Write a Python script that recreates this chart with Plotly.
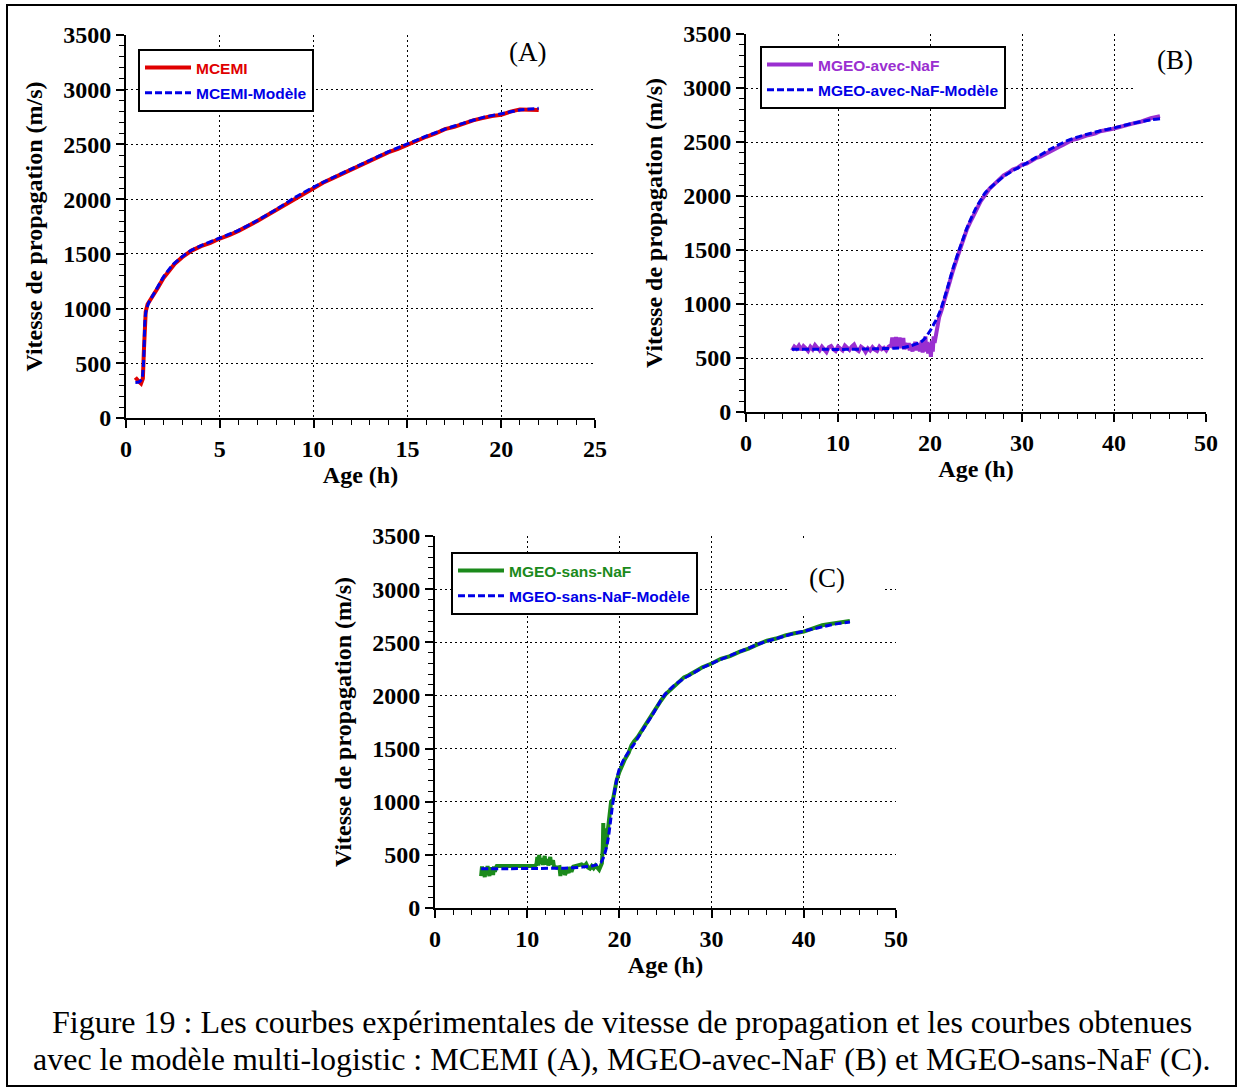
import plotly.graph_objects as go

# ---------------- DATA ----------------
# Panel A : MCEMI
a_x = [0.5, 0.6, 0.7, 0.8, 0.85, 0.9, 0.95, 1.0, 1.05, 1.15, 1.3, 1.5, 1.7, 2.0, 2.3, 2.6, 3.0, 3.5,
       4.0, 4.5, 5.0, 5.5, 6.0, 6.5, 7.0, 7.5, 8.0, 8.5, 9.0, 9.5, 10.0, 10.5, 11.0, 11.5, 12.0, 12.5,
       13.0, 13.5, 14.0, 14.5, 15.0, 15.5, 16.0, 16.5, 17.0, 17.5, 18.0, 18.5, 19.0, 19.5, 20.0, 20.5,
       21.0, 21.5, 22.0]
a_data = [370, 345, 330, 315, 340, 360, 600, 900, 970, 1040, 1080, 1130, 1190, 1280, 1350, 1410, 1470, 1530,
          1570, 1600, 1640, 1670, 1710, 1750, 1800, 1850, 1900, 1960, 2010, 2060, 2110, 2150, 2190, 2230, 2270, 2310,
          2350, 2390, 2430, 2460, 2500, 2540, 2570, 2600, 2640, 2660, 2690, 2720, 2740, 2760, 2770, 2800,
          2820, 2820, 2815]
a_model_x = [0.5, 0.7, 0.85, 0.95, 1.0, 1.05, 1.2, 1.5, 2.0, 2.5, 3.0, 3.5, 4.0, 5.0, 6.0, 7.0, 8.0, 9.0,
             10.0, 11.0, 12.0, 13.0, 14.0, 15.0, 16.0, 17.0, 18.0, 19.0, 20.0, 21.0, 22.0]
a_model = [325, 330, 360, 560, 860, 960, 1050, 1140, 1290, 1400, 1475, 1535, 1575, 1645, 1715, 1805, 1905, 2015,
           2110, 2195, 2275, 2355, 2435, 2505, 2575, 2640, 2695, 2745, 2780, 2815, 2830]

# Panel B : MGEO-avec-NaF
b_x = [5.0, 5.25, 5.5, 5.75, 6.0, 6.25, 6.5, 6.75, 7.0, 7.25, 7.5, 7.75, 8.0, 8.25, 8.5, 8.75, 9.0, 9.25,
       9.5, 9.75, 10.0, 10.25, 10.5, 10.75, 11.0, 11.25, 11.5, 11.75, 12.0, 12.25, 12.5, 12.75, 13.0, 13.25,
       13.5, 13.75, 14.0, 14.25, 14.5, 14.75, 15.0, 15.25, 15.5, 15.8, 15.9, 16.0, 16.1, 16.2, 16.3, 16.4,
       16.5, 16.6, 16.7, 16.8, 16.9, 17.0, 17.1, 17.2, 17.3, 17.4, 17.5, 17.6, 17.7, 17.8, 17.9, 18.0,
       18.1, 18.2, 18.3, 18.4, 18.5, 18.6, 18.7, 18.8, 18.9, 19.0, 19.1, 19.2, 19.3, 19.4, 19.5, 19.6,
       19.7, 19.8, 19.9, 20.0, 20.1, 20.2, 20.3, 20.4, 20.5, 20.75, 21.0, 21.25, 21.5, 21.75, 22.0, 22.5,
       23.0, 23.5, 24.0, 24.5, 25.0, 25.5, 26.0, 26.5, 27.0, 27.5, 28.0, 28.5, 29.0, 29.5, 30.0, 30.5,
       31.0, 31.5, 32.0, 32.5, 33.0, 33.5, 34.0, 34.5, 35.0, 35.5, 36.0, 36.5, 37.0, 37.5, 38.0, 38.5,
       39.0, 39.5, 40.0, 41.0, 42.0, 43.0, 44.0, 45.0]
b_data = [570, 605, 585, 615, 575, 610, 590, 565, 605, 580, 620, 590, 570, 605, 580, 555, 600, 610,
          580, 565, 605, 590, 570, 615, 595, 575, 605, 625, 580, 565, 605, 590, 555, 590,
          570, 600, 578, 565, 605, 582, 595, 570, 605, 620, 690, 590, 680, 600, 695, 585, 670, 610,
          690, 590, 660, 600, 685, 580, 640, 600, 620, 585, 640, 570, 615, 600, 560, 630, 580, 650,
          570, 620, 590, 640, 560, 610, 660, 550, 620, 580, 700, 560, 650, 540, 640, 600, 510, 660,
          560, 700, 640, 760, 880, 940, 1020, 1100, 1170, 1310,
          1440, 1580, 1690, 1780, 1870, 1950, 2010, 2070, 2110, 2150, 2190, 2215, 2245, 2260, 2290, 2300,
          2330, 2350, 2365, 2390, 2410, 2435, 2455, 2475, 2500, 2520, 2530, 2550, 2560, 2570, 2580, 2600,
          2605, 2615, 2625, 2650, 2670, 2690, 2720, 2740]
b_model_x = [5, 8, 11, 14, 16, 17, 18, 19, 19.5, 20, 20.5, 21, 21.5, 22, 22.5, 23, 23.5, 24, 24.5, 25,
             25.5, 26, 27, 28, 29, 30, 31, 32, 33, 34, 35, 36, 37, 38, 39, 40, 41, 42, 43, 44, 45]
b_model = [580, 580, 580, 585, 590, 595, 615, 648, 688, 750, 826, 913, 1037, 1180, 1330, 1460, 1580, 1700,
           1800, 1890, 1960, 2030, 2110, 2180, 2235, 2280, 2330, 2380, 2430, 2475, 2515, 2545, 2570, 2592,
           2612, 2630, 2652, 2672, 2690, 2705, 2715]

# Panel C : MGEO-sans-NaF
c_x = [5.0, 5.1, 5.2, 5.3, 5.4, 5.5, 5.6, 5.7, 5.8, 5.9, 6.0, 6.1, 6.2, 6.3, 6.4, 6.5, 6.6, 6.7,
       7.0, 7.5, 8.0, 9.0, 10.0, 10.8, 11.0, 11.1, 11.2, 11.3, 11.4, 11.6, 11.7, 11.9, 12.0, 12.2, 12.3,
       12.5, 12.6, 12.8, 12.9, 13.2, 13.5, 13.6, 13.7, 13.8, 14.0, 14.1, 14.3, 14.5, 14.6, 14.8, 15.0,
       15.3, 15.6, 15.9, 16.2, 16.4, 16.6, 16.8, 17.0, 17.2, 17.4, 17.6, 17.8, 18.0, 18.1, 18.2, 18.25,
       18.3, 18.4, 18.5, 18.6, 18.7, 18.8, 19.0, 19.1, 19.3, 19.5, 19.7, 20.0, 20.3, 20.6, 21.0, 21.3,
       21.6, 22.0, 22.5, 23.0, 23.5, 24.0, 24.5, 25.0, 25.5, 26.0, 26.5, 27.0, 27.5, 28.0, 28.5, 29.0,
       29.5, 30.0, 31.0, 32.0, 33.0, 34.0, 35.0, 36.0, 37.0, 38.0, 39.0, 40.0, 41.0, 42.0, 43.0, 44.0, 45.0]
c_data = [300, 390, 330, 370, 290, 380, 320, 395, 340, 300, 385, 330, 370, 310, 390, 340, 380, 395,
          395, 395, 395, 395, 395, 395, 410, 480, 400, 500, 420, 470, 405, 490, 410, 460, 400,
          480, 410, 450, 390, 380, 385, 300, 370, 320, 380, 310, 360, 330, 385, 340, 390,
          395, 400, 410, 395, 415, 380, 370, 395, 375, 400, 385, 360, 400, 420, 560, 800,
          600, 750, 560, 620, 700, 820, 900, 1000, 1020, 1130, 1200, 1280, 1350, 1400, 1460, 1530,
          1570, 1610, 1680, 1750, 1810, 1880, 1950, 2010, 2050, 2090, 2140, 2170, 2190, 2220, 2240, 2265,
          2280, 2300, 2345, 2370, 2410, 2440, 2480, 2515, 2535, 2565, 2585, 2600, 2630, 2660, 2675, 2690, 2700]
c_model_x = [5, 8, 11, 14, 16, 17, 17.5, 18.0, 18.3, 18.6, 18.8, 19.0, 19.2, 19.4, 19.6, 19.8, 20.0, 20.5,
             21.0, 21.5, 22.0, 22.5, 23.0, 23.5, 24.0, 24.5, 25.0, 25.5, 26.0, 26.5, 27.0, 28.0, 29.0, 30.0,
             31, 32, 33, 34, 35, 36, 37, 38, 39, 40, 41, 42, 43, 44, 45]
c_model = [370, 370, 372, 375, 385, 395, 405, 430, 480, 570, 660, 790, 930, 1050, 1160, 1245, 1310, 1400,
           1470, 1530, 1600, 1670, 1740, 1805, 1880, 1955, 2015, 2060, 2100, 2130, 2160, 2210, 2260, 2300,
           2340, 2375, 2410, 2445, 2480, 2510, 2535, 2560, 2585, 2605, 2625, 2645, 2665, 2680, 2690]

y_ticks = [0, 500, 1000, 1500, 2000, 2500, 3000, 3500]
a_xticks = [0, 5, 10, 15, 20, 25]
bc_xticks = [0, 10, 20, 30, 40, 50]

# ---------------- STYLE ----------------
W, H = 1240, 1088
SERIF = "Liberation Serif, Times New Roman, serif"
SANS = "Liberation Sans, Arial, sans-serif"
RED = "#e00000"
BLUE = "#0000e6"
PURPLE = "#9a2fd0"
GREEN = "#1b8a1b"


def px_x(p):
    return p / W


def px_y(p):
    return 1 - p / H


fig = go.Figure()

panels = [
    ("x", "y", "legend", a_x, a_data, a_model_x, a_model, RED, "MCEMI", "MCEMI-Modèle"),
    ("x2", "y2", "legend2", b_x, b_data, b_model_x, b_model, PURPLE, "MGEO-avec-NaF", "MGEO-avec-NaF-Modèle"),
    ("x3", "y3", "legend3", c_x, c_data, c_model_x, c_model, GREEN, "MGEO-sans-NaF", "MGEO-sans-NaF-Modèle"),
]

for i, (xa, ya, lg, dx, dy, mx, my, col, nm, mnm) in enumerate(panels):
    fig.add_trace(go.Scatter(
        x=dx, y=dy, mode="lines", xaxis=xa, yaxis=ya, legend=lg,
        line=dict(color=col, width=4),
        name=f"<span style='color:{col}'>{nm}</span>", legendgroup=f"d{i}"))
    fig.add_trace(go.Scatter(
        x=mx, y=my, mode="lines", xaxis=xa, yaxis=ya, legend=lg,
        line=dict(color=BLUE, width=3, dash="7px,3px", shape="spline", smoothing=0.6),
        name=f"<span style='color:{BLUE}'>{mnm}</span>", legendgroup=f"m{i}"))

tickfont = dict(family=SERIF, size=24, color="black", weight="bold")
titlefont = dict(family=SERIF, size=24, color="black", weight="bold")


def xaxis(domain, rng, ticks, minor, anchor):
    return dict(domain=domain, range=rng, tickvals=ticks, anchor=anchor, automargin=False,
                showline=True, linecolor="black", linewidth=2,
                ticks="outside", ticklen=8, tickwidth=1.5, tickcolor="black",
                minor=dict(ticks="outside", ticklen=5, tickwidth=1, tickcolor="black",
                           dtick=minor, showgrid=False),
                showgrid=True, gridcolor="black", gridwidth=1, griddash="2px,3px",
                zeroline=False, tickfont=tickfont,
                title=dict(text="Age (h)", font=titlefont, standoff=4))


def yaxis(domain, anchor):
    return dict(domain=domain, range=[0, 3500], tickvals=y_ticks, anchor=anchor, automargin=False,
                showline=True, linecolor="black", linewidth=2,
                ticks="outside", ticklen=8, tickwidth=1.5, tickcolor="black",
                minor=dict(ticks="outside", ticklen=5, tickwidth=1, tickcolor="black",
                           dtick=100, showgrid=False),
                showgrid=True, gridcolor="black", gridwidth=1, griddash="2px,3px",
                zeroline=False, tickfont=tickfont,
                title=dict(text="Vitesse de propagation (m/s)", font=titlefont, standoff=14))


legend_common = dict(bgcolor="white", bordercolor="black", borderwidth=2,
                     font=dict(family=SANS, size=15.5, weight="bold"),
                     xanchor="left", yanchor="top", traceorder="grouped",
                     tracegroupgap=2, itemwidth=46)

fig.update_layout(
    width=W, height=H,
    margin=dict(l=0, r=0, t=0, b=0, autoexpand=False),
    paper_bgcolor="white", plot_bgcolor="white",
    showlegend=True,
    xaxis=xaxis([px_x(126), px_x(595)], [0, 25], a_xticks, 1, "y"),
    yaxis=yaxis([px_y(418), px_y(35)], "x"),
    xaxis2=xaxis([px_x(746), px_x(1206)], [0, 50], bc_xticks, 2, "y2"),
    yaxis2=yaxis([px_y(412), px_y(34)], "x2"),
    xaxis3=xaxis([px_x(435), px_x(896)], [0, 50], bc_xticks, 2, "y3"),
    yaxis3=yaxis([px_y(908), px_y(536)], "x3"),
    legend=dict(legend_common, x=px_x(138), y=px_y(49)),
    legend2=dict(legend_common, x=px_x(760), y=px_y(46)),
    legend3=dict(legend_common, x=px_x(451), y=px_y(552)),
)

# white boxes behind the panel letters (they hide the grid, as in the source)
for x0, x1, y0, y1 in [(483, 585, 29, 84), (1134, 1216, 28, 94), (787, 884, 541, 614)]:
    fig.add_shape(type="rect", xref="paper", yref="paper",
                  x0=px_x(x0), x1=px_x(x1), y0=px_y(y1), y1=px_y(y0),
                  line=dict(width=0), fillcolor="white", layer="above")

# panel letters
for txt, cx, cy in [("(A)", 527, 52), ("(B)", 1175, 60), ("(C)", 827, 578)]:
    fig.add_annotation(text=txt, x=px_x(cx), y=px_y(cy), xref="paper", yref="paper",
                       showarrow=False, xanchor="center", yanchor="middle",
                       font=dict(family=SERIF, size=27, color="black"))

# caption (two lines)
for line, cy in [("Figure 19 : Les courbes expérimentales de vitesse de propagation et les courbes obtenues", 1022),
                 ("avec le modèle multi-logistic : MCEMI (A), MGEO-avec-NaF (B) et MGEO-sans-NaF (C).", 1059)]:
    fig.add_annotation(text=line, x=px_x(622), y=px_y(cy), xref="paper", yref="paper", showarrow=False,
                       xanchor="center", yanchor="middle",
                       font=dict(family=SERIF, size=32, color="black"))

# outer frame
fig.add_shape(type="rect", xref="paper", yref="paper",
              x0=px_x(7), x1=px_x(1236), y0=px_y(1086), y1=px_y(5),
              line=dict(color="black", width=2), fillcolor="rgba(0,0,0,0)", layer="below")

fig.write_html("out.html", config={"displayModeBar": False},
               post_script="document.body.style.margin='0';document.body.style.overflow='hidden';")
